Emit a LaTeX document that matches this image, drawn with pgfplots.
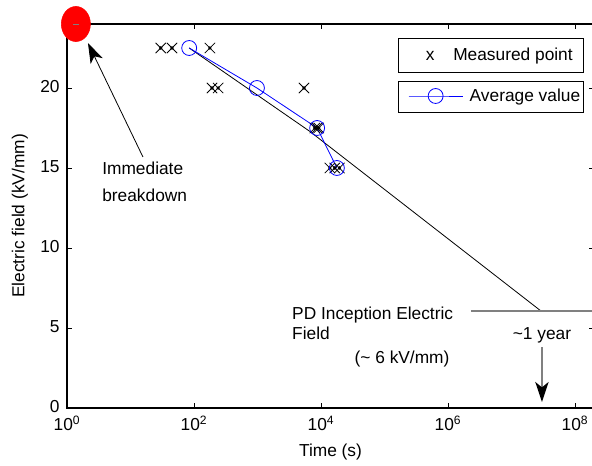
\documentclass[border=0pt]{standalone}
\usepackage{pgfplots}
\pgfplotsset{compat=1.18}
\usepackage{fontspec}
\setmainfont{Liberation Sans}
\usetikzlibrary{arrows.meta}
\definecolor{mblue}{RGB}{0,0,255}
\definecolor{mgray}{RGB}{128,128,128}
\begin{document}
\begin{tikzpicture}[font=\fontsize{13}{15.5}\selectfont]
\begin{axis}[
  name=ax,
  scale only axis,
  width=395.25pt, height=288pt,
  xmode=log, xmin=1, xmax=1.995e8,
  ymin=0, ymax=24,
  xtick={1,1e2,1e4,1e6,1e8},
  xticklabels={10\textsuperscript{0},10\textsuperscript{2},10\textsuperscript{4},10\textsuperscript{6},10\textsuperscript{8}},
  xminorticks=false,
  ytick={0,5,10,15,20},
  tick align=inside,
  major tick length=4pt,
  axis line style={line width=1pt},
  every tick/.style={black, line width=0.6pt},
  /pgf/number format/assume math mode=true,
  yticklabel style={xshift=-2pt, yshift=1pt},
  xticklabel style={yshift=-2.5pt},
  clip=false,
  xlabel={Time (s)}, ylabel={Electric field (kV/mm)},
  xlabel style={at={(axis description cs:0.5,-0.1146)}, anchor=center},
  ylabel style={at={(axis description cs:-0.0892,0.5)}, anchor=center},
  legend style={draw=none, fill=none, at={(axis description cs:0.647,0.8125)}, anchor=west, inner sep=0pt, nodes={inner sep=0pt}, /tikz/every odd column/.append style={column sep=5pt}},
  legend image code/.code={\draw[mark repeat=2,mark phase=2,#1] plot coordinates {(0pt,0pt) (20.25pt,0pt) (40.5pt,0pt)};},
]
% fitted line
\addplot[black, line width=0.6pt, forget plot] coordinates {(84,22.5) (6714,17.28) (2.92e7,6.06)};
% PD inception level
\addplot[mgray, line width=1.5pt, forget plot] coordinates {(2.30e6,6.06) (1.995e8,6.06)};
% measured points
\addplot[only marks, mark=x, mark size=5.5pt, black, line width=0.6pt, forget plot] coordinates {
 (30,22.5) (45,22.5) (178,22.5)
 (192,20) (240,20) (5400,20)
 (8000,17.5) (8600,17.5) (9200,17.5)
 (13800,15) (16500,15) (19500,15)};
\addplot[only marks, mark=*, mark size=1.1pt, black, forget plot] coordinates {
 (30,22.5) (45,22.5) (178,22.5)
 (192,20) (240,20) (5400,20)
 (8000,17.5) (8600,17.5) (9200,17.5)
 (13800,15) (16500,15) (19500,15)};
% average
\addplot[mblue, line width=0.6pt, mark=o, mark size=5.6pt, mark options={solid}] coordinates {(84,22.5) (980,20) (8700,17.5) (17800,15)};
\addlegendentry{Average value}
% immediate breakdown
\addplot[only marks, mark=*, mark size=10.9pt, mark options={fill=red, draw=red, yscale=1.207}, forget plot] coordinates {(1.38,24)};
\addplot[only marks, mark=-, mark size=2.25pt, mgray, forget plot] coordinates {(1.38,24)};
% annotations
\draw[black, line width=0.6pt, -{Stealth[length=15pt,width=10pt,inset=4pt]}] (axis cs:15.7,15.69) -- (axis cs:2.14,22.81);
\draw[mgray, line width=1.2pt, -{Stealth[length=15pt,width=10pt,inset=4pt,color=black]}] (axis cs:3.02e7,3.8) -- (axis cs:3.02e7,0.375);
\node[anchor=base west, inner sep=0pt] at (axis cs:3.56,14.6) {Immediate};
\node[anchor=base west, inner sep=0pt] at (axis cs:3.56,12.9) {breakdown};
\node[anchor=base west, inner sep=0pt] at (axis cs:3493,5.56) {PD Inception Electric};
\node[anchor=base west, inner sep=0pt] at (axis cs:3493,4.31) {Field};
\node[anchor=base, inner sep=0pt] at (axis cs:1.89e5,2.81) {(\textasciitilde\ 6 kV/mm)};
\node[anchor=base, inner sep=0pt] at (axis cs:3.02e7,4.25) {\textasciitilde1 year};
% legend boxes
\draw[line width=0.6pt] (axis description cs:0.628,0.9635) rectangle (axis description cs:0.979,0.875);
\node[anchor=base, inner sep=0pt] at (axis description cs:0.689,0.905) {x};
\node[anchor=base west, inner sep=0pt] at (axis description cs:0.7324,0.905) {Measured point};
\draw[line width=0.6pt] (axis description cs:0.628,0.8516) rectangle (axis description cs:0.979,0.7708);
\end{axis}
\pgfresetboundingbox
\path[use as bounding box] ([xshift=-50.25pt,yshift=-43.5pt]ax.south west) rectangle ([xshift=-1.5pt,yshift=18pt]ax.north east);
\end{tikzpicture}
\end{document}
